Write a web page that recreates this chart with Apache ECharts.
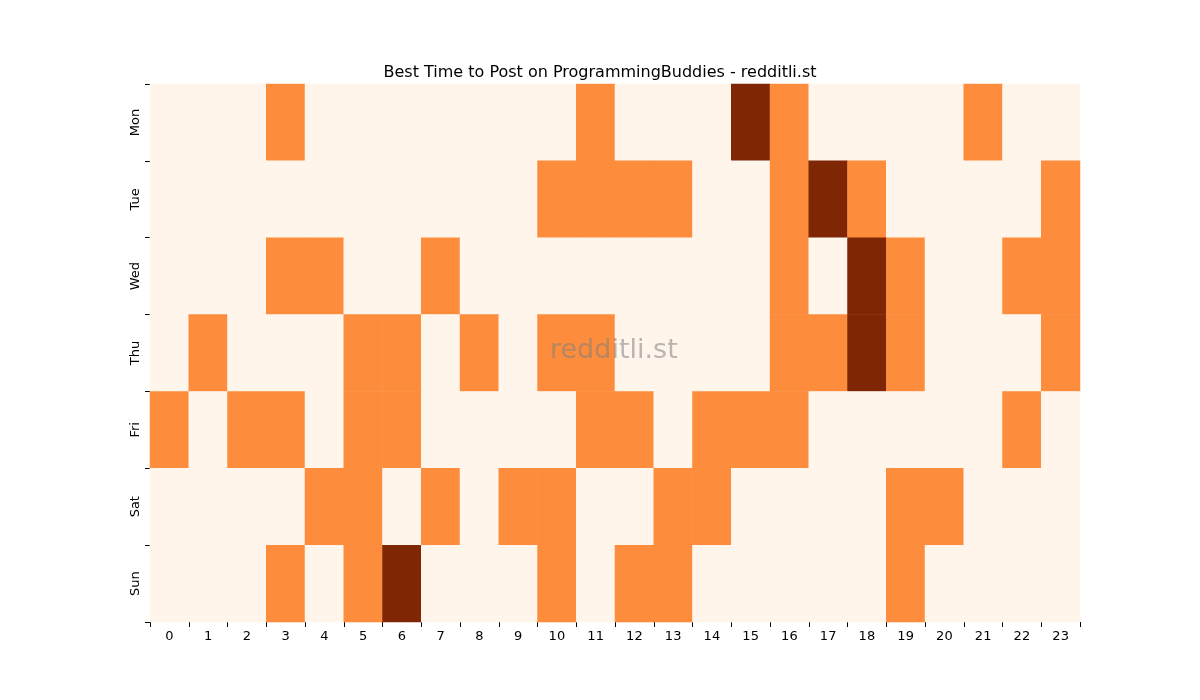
<!DOCTYPE html>
<html><head><meta charset="utf-8">
<script src="https://cdn.jsdelivr.net/npm/echarts@6/dist/echarts.min.js"></script>
<style>html,body{margin:0;background:#fff}#c{width:1200px;height:700px}</style>
</head><body><div id="c"></div>
<script>
const hours = Array.from({length:24},(_,i)=>String(i));
const days = ['Mon','Tue','Wed','Thu','Fri','Sat','Sun'];
const mon = [0,0,0,1,0,0,0,0,0,0,0,1,0,0,0,2,1,0,0,0,0,1,0,0];
const tue = [0,0,0,0,0,0,0,0,0,0,1,1,1,1,0,0,1,2,1,0,0,0,0,1];
const wed = [0,0,0,1,1,0,0,1,0,0,0,0,0,0,0,0,1,0,2,1,0,0,1,1];
const thu = [0,1,0,0,0,1,1,0,1,0,1,1,0,0,0,0,1,1,2,1,0,0,0,1];
const fri = [1,0,1,1,0,1,1,0,0,0,0,1,1,0,1,1,1,0,0,0,0,0,1,0];
const sat = [0,0,0,0,1,1,0,1,0,1,1,0,0,1,1,0,0,0,0,1,1,0,0,0];
const sun = [0,0,0,1,0,1,2,0,0,0,1,0,1,1,0,0,0,0,0,1,0,0,0,0];
const rows = [mon,tue,wed,thu,fri,sat,sun];
const data = [];
rows.forEach((r,d)=>r.forEach((v,h)=>data.push([h,d,v])));
const chart = echarts.init(document.getElementById('c'));
chart.setOption({
  animation:false,
  title:{text:'Best Time to Post on ProgrammingBuddies - redditli.st',left:'center',top:60,
    textStyle:{fontSize:16,fontWeight:'normal',color:'#000',fontFamily:'DejaVu Sans'}},
  graphic:[{type:'text',left:550,top:337,style:{text:'redditli.st',fontSize:27,fill:'rgba(128,128,128,0.55)',fontFamily:'DejaVu Sans'},z:100}],
  grid:{left:150,right:120,top:84,bottom:78},
  xAxis:{type:'category',data:hours,axisLine:{show:false},axisTick:{show:true,lineStyle:{color:'#000'}},
    axisLabel:{color:'#000',fontSize:13,fontFamily:'DejaVu Sans'},splitLine:{show:false}},
  yAxis:{type:'category',data:days,inverse:true,axisLine:{show:false},axisTick:{show:true,lineStyle:{color:'#000'}},
    axisLabel:{color:'#000',fontSize:13,rotate:90,fontFamily:'DejaVu Sans'}},
  visualMap:{show:false,type:'piecewise',dimension:2,pieces:[
    {value:0,color:'#fff5eb'},{value:1,color:'#fd8d3c'},{value:2,color:'#7f2704'}]},
  series:[{type:'heatmap',data:data,itemStyle:{borderWidth:0}}]
});
</script></body></html>
